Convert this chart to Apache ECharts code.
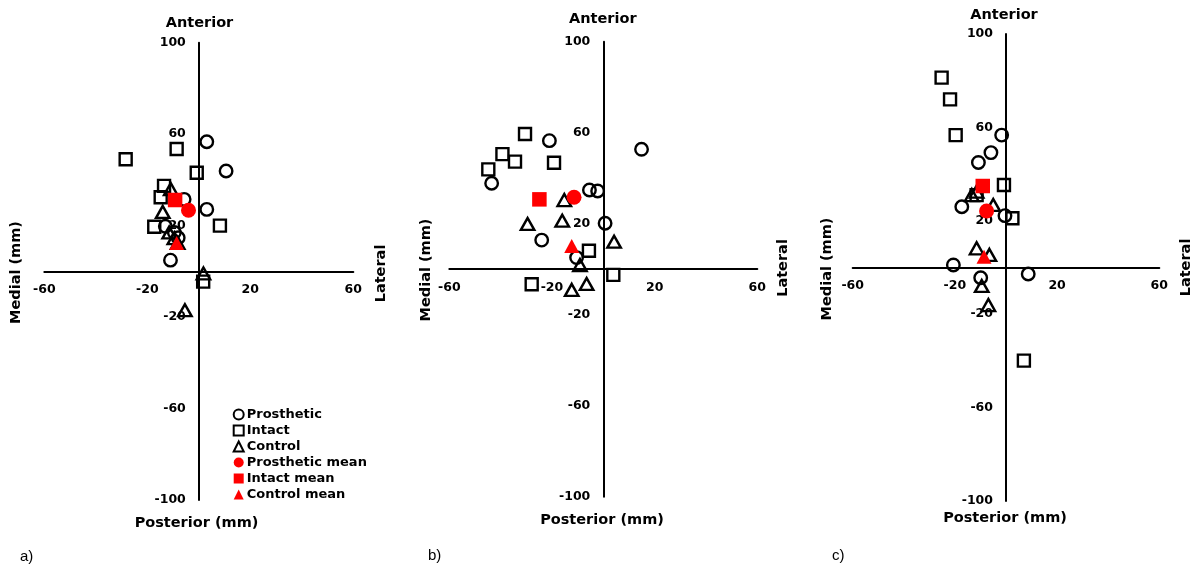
<!DOCTYPE html>
<html>
<head>
<meta charset="utf-8">
<script src="https://cdn.jsdelivr.net/npm/echarts@6/dist/echarts.min.js"></script>
<style>
html,body{margin:0;padding:0;background:#fff;}
#chart{width:1200px;height:574px;}
</style>
</head>
<body>
<div id="chart"></div>
<script>
// ---- Data (x = medial/lateral mm, y = posterior/anterior mm) ----
const seriesNames = ['Prosthetic', 'Intact', 'Control', 'Prosthetic mean', 'Intact mean', 'Control mean'];
const panelLabels = ['a)', 'b)', 'c)'];
const xTicks = [-60, -20, 20, 60];
const yTicks = [-100, -60, -20, 20, 60, 100];

// Panel a
const prostheticA = [[3.1,56.7],[10.6,43.9],[-5.7,31.5],[3.1,27.1],[-13,19.7],[-9.5,17],[-8,14.7],[-11,4.9]];
const intactA = [[-28.4,49],[-8.6,53.5],[-0.8,43.1],[-13.5,37.4],[-14.8,32.4],[-17.3,19.5],[8.2,20],[1.7,-4.5]];
const controlA = [[-10.9,36],[-14,26],[-11.5,17],[-9.5,14.5],[-8.2,12.5],[1.8,-0.9],[-5.4,-17]];
const prostheticMeanA = [[-4,26.7]];
const intactMeanA = [[-9.2,31.2]];
const controlMeanA = [[-8.6,12.4]];

// Panel b
const prostheticB = [[-21,56.5],[14.9,52.7],[-43.5,37.8],[-5.4,34.8],[-2.2,34.4],[0.7,20.2],[-24,12.8],[-10.4,5.1]];
const intactB = [[-30.5,59.4],[-39.3,50.6],[-34.4,47.3],[-44.8,43.9],[-19.2,46.8],[-5.6,8.1],[3.9,-2.5],[-27.9,-6.6]];
const controlB = [[-15.2,30.4],[-16,21.3],[-29.5,19.9],[4.2,12.1],[-9.1,1.8],[-6.5,-6.5],[-12.3,-9.1]];
const prostheticMeanB = [[-11.4,31.6]];
const intactMeanB = [[-24.9,30.7]];
const controlMeanB = [[-12.3,10.2]];

// Panel c
const prostheticC = [[-1.7,56.7],[-5.9,49.2],[-10.8,45],[-17.3,26],[-0.4,22.2],[-20.6,1.1],[-9.9,-4.4],[8.7,-2.8]];
const intactC = [[-25.2,81.3],[-21.9,72],[-19.7,56.7],[-0.8,35.3],[-11.5,31],[2.5,21.1],[7,-39.9]];
const controlC = [[-13.4,31],[-11.5,32.5],[-5,26.8],[-11.5,8.2],[-6.5,5.4],[-9.5,-7.9],[-6.9,-16.1]];
const prostheticMeanC = [[-7.6,24.2]];
const intactMeanC = [[-9.1,34.9]];
const controlMeanC = [[-8.6,4.6]];

const panels = [
  [prostheticA, intactA, controlA, prostheticMeanA, intactMeanA, controlMeanA],
  [prostheticB, intactB, controlB, prostheticMeanB, intactMeanB, controlMeanB],
  [prostheticC, intactC, controlC, prostheticMeanC, intactMeanC, controlMeanC]
];

// ---- Layout / style ----
const FONT = '"DejaVu Sans", Verdana, sans-serif';
const grids = [
  {left: 44.3, top: 42.7, width: 309, height: 457.3},
  {left: 449.3, top: 41.7, width: 308, height: 455},
  {left: 852.7, top: 34, width: 306.6, height: 467}
];
const symbols = ['circle', 'rect', 'triangle', 'circle', 'rect', 'triangle'];
const sizes = [12.5, 12, [13.5, 12], 15, 14.5, [15, 14]];

const option = {
  animation: false,
  backgroundColor: '#fff',
  grid: grids.map(g => Object.assign({containLabel: false}, g)),
  // axes cross at the origin: ranges are symmetric, so shift each axis to the grid centre
  xAxis: grids.map((g, i) => ({
    gridIndex: i, type: 'value', position: 'bottom', offset: -g.height / 2,
    min: xTicks[0], max: xTicks[xTicks.length - 1], interval: 40,
    axisLine: {onZero: false, lineStyle: {color: '#000', width: 2}},
    axisTick: {show: false}, splitLine: {show: false},
    axisLabel: {color: '#000', fontFamily: FONT, fontWeight: 'bold', fontSize: 12.5, margin: 12}
  })),
  yAxis: grids.map((g, i) => ({
    gridIndex: i, type: 'value', position: 'left', offset: -g.width / 2,
    min: yTicks[0], max: yTicks[yTicks.length - 1], interval: 40,
    axisLine: {onZero: false, lineStyle: {color: '#000', width: 2}},
    axisTick: {show: false}, splitLine: {show: false},
    axisLabel: {color: '#000', fontFamily: FONT, fontWeight: 'bold', fontSize: 12.5, margin: 13}
  })),
  legend: {
    data: seriesNames, orient: 'vertical', left: 232.7, top: 408,
    itemWidth: 10, itemHeight: 10, itemGap: 3, padding: 0,
    selectedMode: false,
    textStyle: {color: '#000', fontFamily: FONT, fontWeight: 'bold', fontSize: 13, padding: [0, 0, 0, -2]}
  },
  series: [],
  graphic: []
};

panels.forEach((sets, p) => {
  sets.forEach((data, k) => {
    const mean = k >= 3;
    option.series.push({
      name: seriesNames[k], type: 'scatter', xAxisIndex: p, yAxisIndex: p,
      symbol: symbols[k], symbolSize: sizes[k], data: data,
      itemStyle: mean ? {color: '#ff0000', borderWidth: 0, opacity: 1}
                      : {color: 'transparent', borderColor: '#000', borderWidth: 2.4, opacity: 1},
      emphasis: {disabled: true}, z: mean ? 4 : 3
    });
  });
});

function txt(text, x, y, opts) {
  opts = opts || {};
  return {
    type: 'text', x: x, y: y, rotation: opts.rot || 0, silent: true, z: 10,
    style: {
      text: text, fill: '#000',
      font: opts.font || ('bold 14.5px ' + FONT),
      textAlign: opts.align || 'center', textVerticalAlign: 'middle', verticalAlign: 'middle'
    }
  };
}
const titlePos = [
  {ant: [199.5, 23], post: [196.5, 523.3], med: [16.5, 272.5], lat: [381.5, 273.5], lab: [20, 556.7]},
  {ant: [602.8, 19.3], post: [602, 520.7], med: [426.5, 270], lat: [783.5, 268], lab: [428, 555.7]},
  {ant: [1004, 15], post: [1005, 518.3], med: [827.5, 269], lat: [1186.7, 267.5], lab: [832, 555.7]}
];
titlePos.forEach((t, i) => {
  option.graphic.push(txt('Anterior', t.ant[0], t.ant[1]));
  option.graphic.push(txt('Posterior (mm)', t.post[0], t.post[1]));
  option.graphic.push(txt('Medial (mm)', t.med[0], t.med[1], {rot: Math.PI / 2}));
  option.graphic.push(txt('Lateral', t.lat[0], t.lat[1], {rot: Math.PI / 2}));
  option.graphic.push(txt(panelLabels[i], t.lab[0], t.lab[1], {align: 'left', font: '15px "Liberation Sans", Arial, sans-serif'}));
});

const chart = echarts.init(document.getElementById('chart'), null, {renderer: 'canvas'});
chart.setOption(option);
</script>
</body>
</html>
